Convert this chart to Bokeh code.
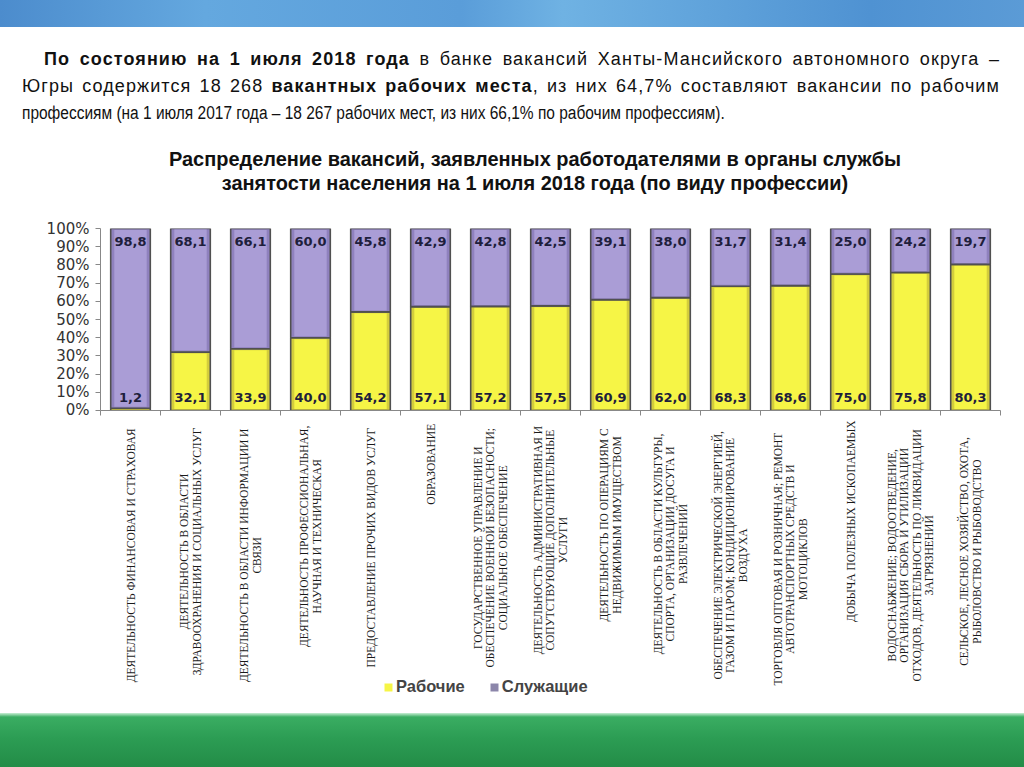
import math
from bokeh.plotting import figure
from bokeh.layouts import column
from bokeh.models import Range1d, FixedTicker, Legend, LegendItem, ColumnDataSource, Div
from bokeh.core.properties import value
from bokeh.embed import file_html
from bokeh.resources import INLINE

# ---------------- data ----------------
categories = [
    "ДЕЯТЕЛЬНОСТЬ ФИНАНСОВАЯ И СТРАХОВАЯ",
    "ДЕЯТЕЛЬНОСТЬ В ОБЛАСТИ\nЗДРАВООХРАНЕНИЯ И СОЦИАЛЬНЫХ УСЛУГ",
    "ДЕЯТЕЛЬНОСТЬ В ОБЛАСТИ ИНФОРМАЦИИ И\nСВЯЗИ",
    "ДЕЯТЕЛЬНОСТЬ ПРОФЕССИОНАЛЬНАЯ,\nНАУЧНАЯ И ТЕХНИЧЕСКАЯ",
    "ПРЕДОСТАВЛЕНИЕ ПРОЧИХ ВИДОВ УСЛУГ",
    "ОБРАЗОВАНИЕ",
    "ГОСУДАРСТВЕННОЕ УПРАВЛЕНИЕ И\nОБЕСПЕЧЕНИЕ ВОЕННОЙ БЕЗОПАСНОСТИ;\nСОЦИАЛЬНОЕ ОБЕСПЕЧЕНИЕ",
    "ДЕЯТЕЛЬНОСТЬ АДМИНИСТРАТИВНАЯ И\nСОПУТСТВУЮЩИЕ ДОПОЛНИТЕЛЬНЫЕ\nУСЛУГИ",
    "ДЕЯТЕЛЬНОСТЬ ПО ОПЕРАЦИЯМ С\nНЕДВИЖИМЫМ ИМУЩЕСТВОМ",
    "ДЕЯТЕЛЬНОСТЬ В ОБЛАСТИ КУЛЬТУРЫ,\nСПОРТА, ОРГАНИЗАЦИИ ДОСУГА И\nРАЗВЛЕЧЕНИЙ",
    "ОБЕСПЕЧЕНИЕ ЭЛЕКТРИЧЕСКОЙ ЭНЕРГИЕЙ,\nГАЗОМ И ПАРОМ; КОНДИЦИОНИРОВАНИЕ\nВОЗДУХА",
    "ТОРГОВЛЯ ОПТОВАЯ И РОЗНИЧНАЯ; РЕМОНТ\nАВТОТРАНСПОРТНЫХ СРЕДСТВ И\nМОТОЦИКЛОВ",
    "ДОБЫЧА ПОЛЕЗНЫХ ИСКОПАЕМЫХ",
    "ВОДОСНАБЖЕНИЕ; ВОДООТВЕДЕНИЕ,\nОРГАНИЗАЦИЯ СБОРА И УТИЛИЗАЦИИ\nОТХОДОВ, ДЕЯТЕЛЬНОСТЬ ПО ЛИКВИДАЦИИ\nЗАГРЯЗНЕНИЙ",
    "СЕЛЬСКОЕ, ЛЕСНОЕ ХОЗЯЙСТВО, ОХОТА,\nРЫБОЛОВСТВО И РЫБОВОДСТВО",
]
workers = [1.2, 32.1, 33.9, 40.0, 54.2, 57.1, 57.2, 57.5, 60.9, 62.0, 68.3, 68.6, 75.0, 75.8, 80.3]
employees = [98.8, 68.1, 66.1, 60.0, 45.8, 42.9, 42.8, 42.5, 39.1, 38.0, 31.7, 31.4, 25.0, 24.2, 19.7]
series_names = ["Рабочие", "Служащие"]
y_ticks = [0, 10, 20, 30, 40, 50, 60, 70, 80, 90, 100]
y_tick_labels = ["0%", "10%", "20%", "30%", "40%", "50%", "60%", "70%", "80%", "90%", "100%"]

intro_lines = [
    ("По состоянию на 1 июля 2018 года", " в банке вакансий Ханты-Мансийского автономного округа –"),
    ("Югры содержится 18 268 ", "вакантных рабочих места", ", из них 64,7% составляют вакансии по рабочим"),
    ("профессиям (на 1 июля 2017 года – 18 267 рабочих мест, из них 66,1% по рабочим профессиям).",),
]
title_lines = [
    "Распределение вакансий, заявленных работодателями в органы службы",
    "занятости населения на 1 июля 2018 года (по виду профессии)",
]

# ---------------- styling ----------------
W_EDGE, W_FILL = "#d3cd3c", "#f6f546"
E_EDGE, E_FILL = "#8f81be", "#aa9dd6"
OUTLINE = "#505050"
NUM_FONT = "DejaVu Sans"
SANS_CSS = "'Liberation Sans',Arial,sans-serif"
LABEL_PX = 11.5
SX = 0.86  # condensed last line of the intro

n = len(categories)
xs = [i + 0.5 for i in range(n)]
totals = [w + e for w, e in zip(workers, employees)]
inset = 0.8
src = ColumnDataSource(dict(
    x=xs,
    w=workers,
    t=totals,
    w_in_top=[max(w - inset, inset) for w in workers],
    e_in_bot=[w + inset for w in workers],
    e_in_top=[t - inset for t in totals],
    w_lab=[f"{v:.1f}".replace(".", ",") for v in workers],
    e_lab=[f"{v:.1f}".replace(".", ",") for v in employees],
    w_y=[7] * n,
    e_y=[93] * n,
))

# ---------------- banners & text (HTML) ----------------
top = Div(width=1024, height=27, text="", margin=0,
          styles={"background": "linear-gradient(90deg,#4c8ccd 0%,#64a8df 20%,#5a9dd9 45%,#6fb2e3 55%,#4f92d2 85%,#5b9bd6 100%)"})
bottom = Div(width=1024, height=54, text="", margin=0,
             styles={"background": "linear-gradient(180deg,#c9efd5 0px,#3aad62 4px,#2c9d54 25px,#238c47 54px)"})

def seg(parts, bold_idx):
    return "".join(f"<b>{t}</b>" if i in bold_idx else t for i, t in enumerate(parts))

jl = "text-align:justify;text-align-last:justify;white-space:nowrap;letter-spacing:1.1px;"
intro_html = (
    f"<div style=\"font-family:{SANS_CSS};color:#111;width:978px;margin-left:22px;"
    f"padding-top:19px;font-size:18px;line-height:27px;\">"
    f"<div style=\"{jl}padding-left:22px;\">{seg(intro_lines[0], {0})}</div>"
    f"<div style=\"{jl}\">{seg(intro_lines[1], {1})}</div>"
    f"<div style=\"white-space:nowrap;transform:scaleX({SX});transform-origin:0 0;\">{intro_lines[2][0]}</div>"
    f"</div>"
    f"<div style=\"font-family:{SANS_CSS};color:#111;width:978px;margin-left:46px;"
    f"transform:scaleX(0.95);transform-origin:50% 0;"
    f"margin-top:20px;text-align:center;font-weight:bold;font-size:21px;line-height:24px;\">"
    f"{title_lines[0]}<br>{title_lines[1]}</div>"
)
intro = Div(width=1024, height=174, text=intro_html, margin=0)

# ---------------- main chart ----------------
p = figure(width=1024, height=217, toolbar_location=None, output_backend="svg",
           x_range=Range1d(0, n), y_range=Range1d(0, 100),
           min_border_left=100, min_border_right=24, min_border_top=27, min_border_bottom=8)
p.outline_line_color = None
p.grid.visible = False

BW, IW = 0.66, 0.54
p.vbar(x="x", bottom=0, top="w", width=BW, source=src,
       fill_color=W_EDGE, line_color=OUTLINE, line_width=1.6)
p.vbar(x="x", bottom=inset, top="w_in_top", width=IW, source=src,
       fill_color=W_FILL, line_color=None)
p.vbar(x="x", bottom="w", top="t", width=BW, source=src,
       fill_color=E_EDGE, line_color=OUTLINE, line_width=1.6)
p.vbar(x="x", bottom="e_in_bot", top="e_in_top", width=IW, source=src,
       fill_color=E_FILL, line_color=None)

for col, ycol in (("w_lab", "w_y"), ("e_lab", "e_y")):
    p.text(x="x", y=ycol, text=col, source=src, text_align="center", text_baseline="middle",
           text_font=value(NUM_FONT), text_font_style="bold", text_font_size="13px",
           text_color="#1e1e3c")

xa = p.xaxis[0]
xa.ticker = FixedTicker(ticks=[], minor_ticks=list(range(n + 1)))
xa.major_tick_line_color = None
xa.major_label_standoff = 0
xa.minor_tick_in = 0
xa.minor_tick_out = 5
xa.minor_tick_line_color = "#888888"
xa.axis_line_color = "#888888"

ya = p.yaxis[0]
ya.ticker = FixedTicker(ticks=y_ticks)
ya.major_label_overrides = {t: l for t, l in zip(y_ticks, y_tick_labels)}
ya.minor_tick_line_color = None
ya.major_tick_in = 0
ya.major_tick_out = 5
ya.major_tick_line_color = "#888888"
ya.axis_line_color = "#888888"
ya.major_label_text_font = NUM_FONT
ya.major_label_text_font_size = "15px"
ya.major_label_text_color = "#333333"
ya.major_label_standoff = 6

# ---------------- category labels + legend ----------------
LH = 295
lab = figure(width=1024, height=LH, toolbar_location=None, output_backend="svg",
             x_range=p.x_range, y_range=Range1d(LH, 0),
             x_axis_location=None, y_axis_location=None,
             min_border_left=100, min_border_right=24, min_border_top=0, min_border_bottom=0)
lab.outline_line_color = None
lab.grid.visible = False

# estimated label length (px) so that the longest line ends just under the axis
est_len = [max(len(s) for s in c.split("\n")) * 0.66 * LABEL_PX for c in categories]
lab_src = ColumnDataSource(dict(x=xs, y=[4 + L / 2 for L in est_len], text=categories))
lab.text(x="x", y="y", text="text", source=lab_src, angle=math.pi / 2,
         text_align="center", text_baseline="middle", text_line_height=1.05,
         text_font=value("Liberation Serif"), text_font_size=f"{LABEL_PX}px", text_color="#1a1a1a")

# zero-height proxies (invisible) that carry the legend swatches
lw = lab.vbar(x="x", bottom="w", top="w", width=0.5, source=src, fill_color=W_FILL, line_color=None)
le = lab.vbar(x="x", bottom="w", top="w", width=0.5, source=src, fill_color="#8c86aa", line_color=None)
legend = Legend(items=[LegendItem(label=series_names[0], renderers=[lw]),
                       LegendItem(label=series_names[1], renderers=[le])],
                orientation="horizontal", location=(283, 17),
                glyph_width=10, glyph_height=10, spacing=24, padding=0, margin=0,
                label_text_font="Liberation Sans", label_text_font_style="bold",
                label_text_font_size="16.5px", label_standoff=3,
                background_fill_alpha=0, border_line_color=None)
lab.add_layout(legend, "center")

layout = column(top, intro, p, lab, bottom, spacing=0)
open("out.html", "w").write(file_html(layout, INLINE))
